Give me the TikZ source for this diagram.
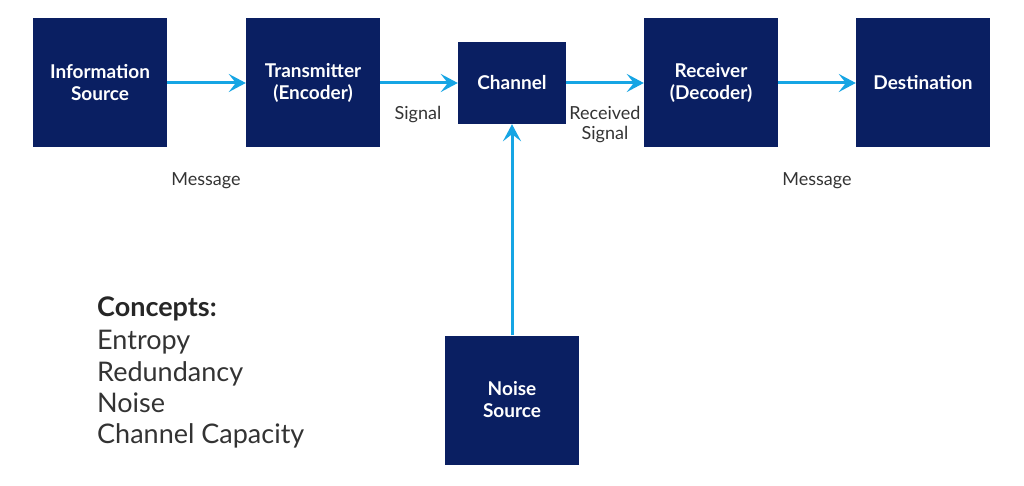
\documentclass[tikz,border=0pt]{standalone}
\usepackage{fontspec}
\setmainfont{Lato}
\usetikzlibrary{arrows.meta}
\definecolor{navy}{RGB}{10,31,98}
\definecolor{arrowblue}{RGB}{22,165,228}
\definecolor{txt}{RGB}{51,51,51}
\begin{document}
\begin{tikzpicture}[x=1pt,y=-1pt,
  blk/.style={fill=navy,draw=none,text=white,font=\fontsize{19}{22}\selectfont\bfseries,align=center,inner sep=0pt},
  conn/.style={draw=arrowblue,line width=3pt,-{Stealth[length=17pt,width=18pt,inset=7pt]}},
  lbl/.style={text=txt,font=\fontsize{18}{20}\selectfont,align=center,inner sep=0pt,anchor=base},
  concept/.style={text=txt,font=\fontsize{27}{31}\selectfont,anchor=base west,inner sep=0pt}]
\useasboundingbox (0,0) rectangle (1024,486);
\node[blk,minimum width=134pt,minimum height=129pt] (src) at (100,83) {Information\\Source};
\node[blk,minimum width=134pt,minimum height=129pt] (tx) at (313,83) {Transmitter\\(Encoder)};
\node[blk,minimum width=108pt,minimum height=82pt] (ch) at (512,83) {Channel};
\node[blk,minimum width=134pt,minimum height=129pt] (rx) at (711,83) {Receiver\\(Decoder)};
\node[blk,minimum width=134pt,minimum height=129pt] (dst) at (923,83) {Destination};
\node[blk,minimum width=134pt,minimum height=129pt] (noise) at (512,400) {Noise\\Source};
\draw[conn] (src.east) -- (tx.west);
\draw[conn] (tx.east) -- (ch.west);
\draw[conn] (ch.east) -- (rx.west);
\draw[conn] (rx.east) -- (dst.west);
\draw[conn] (noise.north) -- (ch.south);
\node[lbl] (m1) at (206,186) {Message};
\node[lbl] (sig) at (418,120) {Signal};
\node[lbl] (rsig) at (605,140) {Received\\Signal};
\node[lbl] (m2) at (817,186) {Message};
\node[concept,font=\fontsize{27}{31}\selectfont\bfseries,text=black!85] (c0) at (97,316) {Concepts:};
\node[concept] (c1) at (97,349) {Entropy};
\node[concept] (c2) at (97,381) {Redundancy};
\node[concept] (c3) at (97,412) {Noise};
\node[concept] (c4) at (97,443) {Channel Capacity};
\end{tikzpicture}
\end{document}
